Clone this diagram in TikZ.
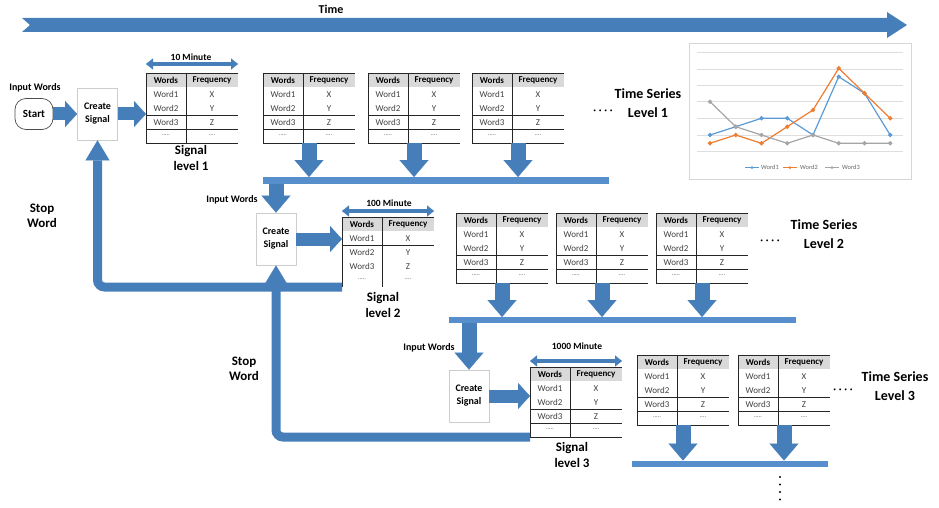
\documentclass[tikz,border=0pt]{standalone}
\usepackage{fontspec}
\setmainfont{Carlito}
\usetikzlibrary{arrows.meta,calc}

\definecolor{flowblue}{RGB}{70,126,186}
\definecolor{barblue}{RGB}{86,143,204}
\definecolor{hdrgray}{RGB}{217,217,217}
\definecolor{cellgray}{RGB}{64,64,64}
\definecolor{boxgray}{RGB}{205,205,205}
\definecolor{serA}{RGB}{91,155,213}
\definecolor{serB}{RGB}{237,125,49}
\definecolor{serC}{RGB}{165,165,165}

% cells shared by every frequency table (origin = top-left corner)
\newcommand\fqcells{%
  \fill[hdrgray] (0,0) rectangle (92,14);
  \node[cellh] at (20,7.5) {Words};
  \node[cellh] at (66,7.5) {Frequency};
  \node[cell] at (20,21.5) {Word1};
  \node[cell] at (66,21.5) {X};
  \node[cell] at (20,35.5) {Word2};
  \node[cell] at (66,35.5) {Y};
  \node[cell] at (20,49.5) {Word3};
  \node[cell] at (66,49.5) {Z};
  \node[celldots] at (20,62.5) {.....};
  \node[celldots] at (66,62.5) {....};
  \draw[tline] (0,0) -- (92,0);
  \draw[tline] (0,0) -- (0,70) (40,0) -- (40,70);
  \node[minimum width=92pt, minimum height=70pt, inner sep=0pt, outer sep=0pt] (-box) at (46,35) {};
}

\tikzset{
  lbl/.style={font=\bfseries\fontsize{10}{12}\selectfont, align=center, inner sep=0pt},
  minlbl/.style={font=\bfseries\fontsize{9.5}{11}\selectfont, inner sep=0pt},
  biglbl/.style={font=\bfseries\fontsize{13}{15.5}\selectfont, align=center, inner sep=0pt},
  serieslbl/.style={font=\bfseries\fontsize{14}{19.5}\selectfont, align=center, inner sep=0pt},
  dotslbl/.style={font=\fontsize{13}{15}\selectfont, inner sep=0pt},
  stoplbl/.style={font=\bfseries\fontsize{13}{14.5}\selectfont, align=center, inner sep=0pt},
  cellh/.style={font=\bfseries\fontsize{9}{10}\selectfont, inner sep=0pt},
  cell/.style={font=\fontsize{9}{10}\selectfont, text=cellgray, inner sep=0pt},
  celldots/.style={font=\fontsize{6}{6}\selectfont, text=cellgray, inner sep=0pt},
  tline/.style={line width=0.7pt, black!85},
  procbox/.style={draw=boxgray, line width=0.8pt, fill=white, minimum width=40pt,
    minimum height=52pt, font=\bfseries\fontsize{10}{13}\selectfont, align=center},
  startbox/.style={draw=black!70, line width=0.7pt, rounded corners=11pt, fill=white,
    minimum width=38pt, minimum height=31pt, font=\bfseries\fontsize{11}{13}\selectfont},
  bar/.style={fill=barblue, inner sep=0pt, outer sep=0pt},
  flow/.style={draw=flowblue, line width=13pt,
    -{Triangle[width=26pt,length=12pt,line width=0.1pt]}},
  drop/.style={draw=flowblue, line width=15pt,
    -{Triangle[width=29pt,length=17pt,line width=0.1pt]}},
  loop/.style={draw=flowblue, line width=9pt, rounded corners=7pt,
    -{Triangle[width=24pt,length=20pt,line width=0.1pt]}},
  span/.style={draw=flowblue, line width=4pt,
    {Triangle[width=11pt,length=7pt,line width=0.1pt]}-{Triangle[width=11pt,length=7pt,line width=0.1pt]}},
  ftable/.pic={\fqcells
    \draw[tline] (0,42) -- (92,42) (0,56) -- (92,56) (0,70) -- (92,70);},
  ftableb/.pic={\fqcells
    \draw[tline] (0,28) -- (92,28);},
  serline/.style={line width=1.2pt},
  legtxt/.style={font=\fontsize{6.4}{7}\selectfont, text=black!60, inner sep=0pt, anchor=west},
}

\begin{document}
\begin{tikzpicture}[x=1pt, y=-1pt]
\useasboundingbox (0,0) rectangle (939,508);

% ---- time axis ----
\fill[flowblue] (22,18) -- (887,18) -- (887,12) -- (907,25) -- (887,38) -- (887,32)
  -- (22,32) -- (30,25) -- cycle;
\node[lbl, font=\bfseries\fontsize{12}{14}\selectfont] (time) at (331,9) {Time};

% ---- level 1 ----
\node[lbl] (in1) at (35,88) {Input Words};
\node[startbox] (start) at (34,114) {Start};
\node[procbox] (cs1) at (97.5,114) {Create\\Signal};
\pic (s1) at (146,73) {ftable};
\draw[flow] (start) -- (cs1);
\draw[flow] (cs1) -- (s1-box.west |- cs1);
\draw[span] ([yshift=9pt]s1-box.north west) -- ([yshift=9pt]s1-box.north east);
\node[minlbl] (m1) at (191,57) {10 Minute};
\node[biglbl] (sig1) at (191,158) {Signal\\level 1};

\pic (a1) at (263,73) {ftable};
\pic (a2) at (368,73) {ftable};
\pic (a3) at (472,73) {ftable};
\node[bar, minimum width=346pt, minimum height=7pt] (bar1) at (436,180.5) {};
\foreach \t in {a1,a2,a3}
  \draw[drop] (\t-box.south) -- (\t-box.south |- bar1.north);
\node[dotslbl] (dots1) at (603,112) {·\,·\,·\,·};
\node[serieslbl] (ts1) at (648,103) {Time Series\\Level 1};

% ---- level 1 chart ----
\draw[boxgray!80, line width=0.6pt] (689,43) rectangle (911,179);
\foreach \y in {52.7,69.3,85,101.7,118.3,135,151.7}
  \draw[black!13, line width=0.6pt] (697,\y) -- (903,\y);
\draw[serA, serline] plot[mark=*, mark size=1.5pt] coordinates
  {(710,135) (735.7,126.7) (761.5,118.3) (787.2,118.3) (813,135) (838.7,76.7) (864.5,93.3) (890.2,135)};
\draw[serB, serline] plot[mark=*, mark size=1.5pt] coordinates
  {(710,143.3) (735.7,135) (761.5,143.3) (787.2,126.7) (813,110) (838.7,68.3) (864.5,93.3) (890.2,118.3)};
\draw[serC, serline] plot[mark=*, mark size=1.5pt] coordinates
  {(710,101.7) (735.7,126.7) (761.5,135) (787.2,143.3) (813,135) (838.7,143.3) (864.5,143.3) (890.2,143.3)};
% legend
\draw[serA, serline] (745,167.7) -- (759,167.7);
\fill[serA] (752,167.7) circle (1.5pt);
\node[legtxt] (lg1) at (761,167.7) {Word1};
\draw[serB, serline] (783,167.7) -- (797,167.7);
\fill[serB] (790,167.7) circle (1.5pt);
\node[legtxt] (lg2) at (800,167.7) {Word2};
\draw[serC, serline] (825,167.7) -- (839,167.7);
\fill[serC] (832,167.7) circle (1.5pt);
\node[legtxt] (lg3) at (842,167.7) {Word3};

% ---- level 2 ----
\node[procbox] (cs2) at (276,239) {Create\\Signal};
\draw[drop] (cs2.north |- bar1.south) -- (cs2.north);
\node[lbl] (in2) at (232,200) {Input Words};
\pic (s2) at (342,217) {ftableb};
\draw[flow] (cs2) -- (s2-box.west |- cs2);
\draw[span] ([yshift=6pt]s2-box.north west) -- ([yshift=6pt]s2-box.north east);
\node[minlbl] (m2) at (389,203) {100 Minute};
\node[biglbl] (sig2) at (383,305) {Signal\\level 2};
\draw[loop] (s2-box.south west) -| (cs1.south);
\node[stoplbl] (stop1) at (42,216) {Stop\\Word};

\pic (b1) at (456,213) {ftable};
\pic (b2) at (556,213) {ftable};
\pic (b3) at (656,213) {ftable};
\node[bar, minimum width=347pt, minimum height=6pt] (bar2) at (622.5,320) {};
\foreach \t in {b1,b2,b3}
  \draw[drop] (\t-box.south) -- (\t-box.south |- bar2.north);
\node[dotslbl] (dots2) at (770,242) {·\,·\,·\,·};
\node[serieslbl] (ts2) at (824,234) {Time Series\\Level 2};

% ---- level 3 ----
\node[procbox] (cs3) at (469,396) {Create\\Signal};
\draw[drop] (cs3.north |- bar2.south) -- (cs3.north);
\node[lbl] (in3) at (429,348) {Input Words};
\pic (s3) at (530,367) {ftable};
\draw[flow] (cs3) -- (s3-box.west |- cs3);
\draw[span] ([yshift=6pt]s3-box.north west) -- ([yshift=6pt]s3-box.north east);
\node[minlbl] (m3) at (577,346) {1000 Minute};
\node[biglbl] (sig3) at (572,455) {Signal\\level 3};
\draw[loop] (s3-box.south west) -| (cs2.south);
\node[stoplbl] (stop2) at (244,369) {Stop\\Word};

\pic (c1) at (637,355) {ftable};
\pic (c2) at (738,355) {ftable};
\node[bar, minimum width=196pt, minimum height=6pt] (bar3) at (730,463.5) {};
\foreach \t in {c1,c2}
  \draw[drop] (\t-box.south) -- (\t-box.south |- bar3.north);
\node[dotslbl] (dots3) at (843,391) {·\,·\,·\,·};
\node[serieslbl] (ts3) at (895,386) {Time Series\\Level 3};

% continuation marks below the last level
\foreach \y in {477,484.5,492,499.5}
  \fill (780,\y) circle (1.1pt);
\end{tikzpicture}
\end{document}
